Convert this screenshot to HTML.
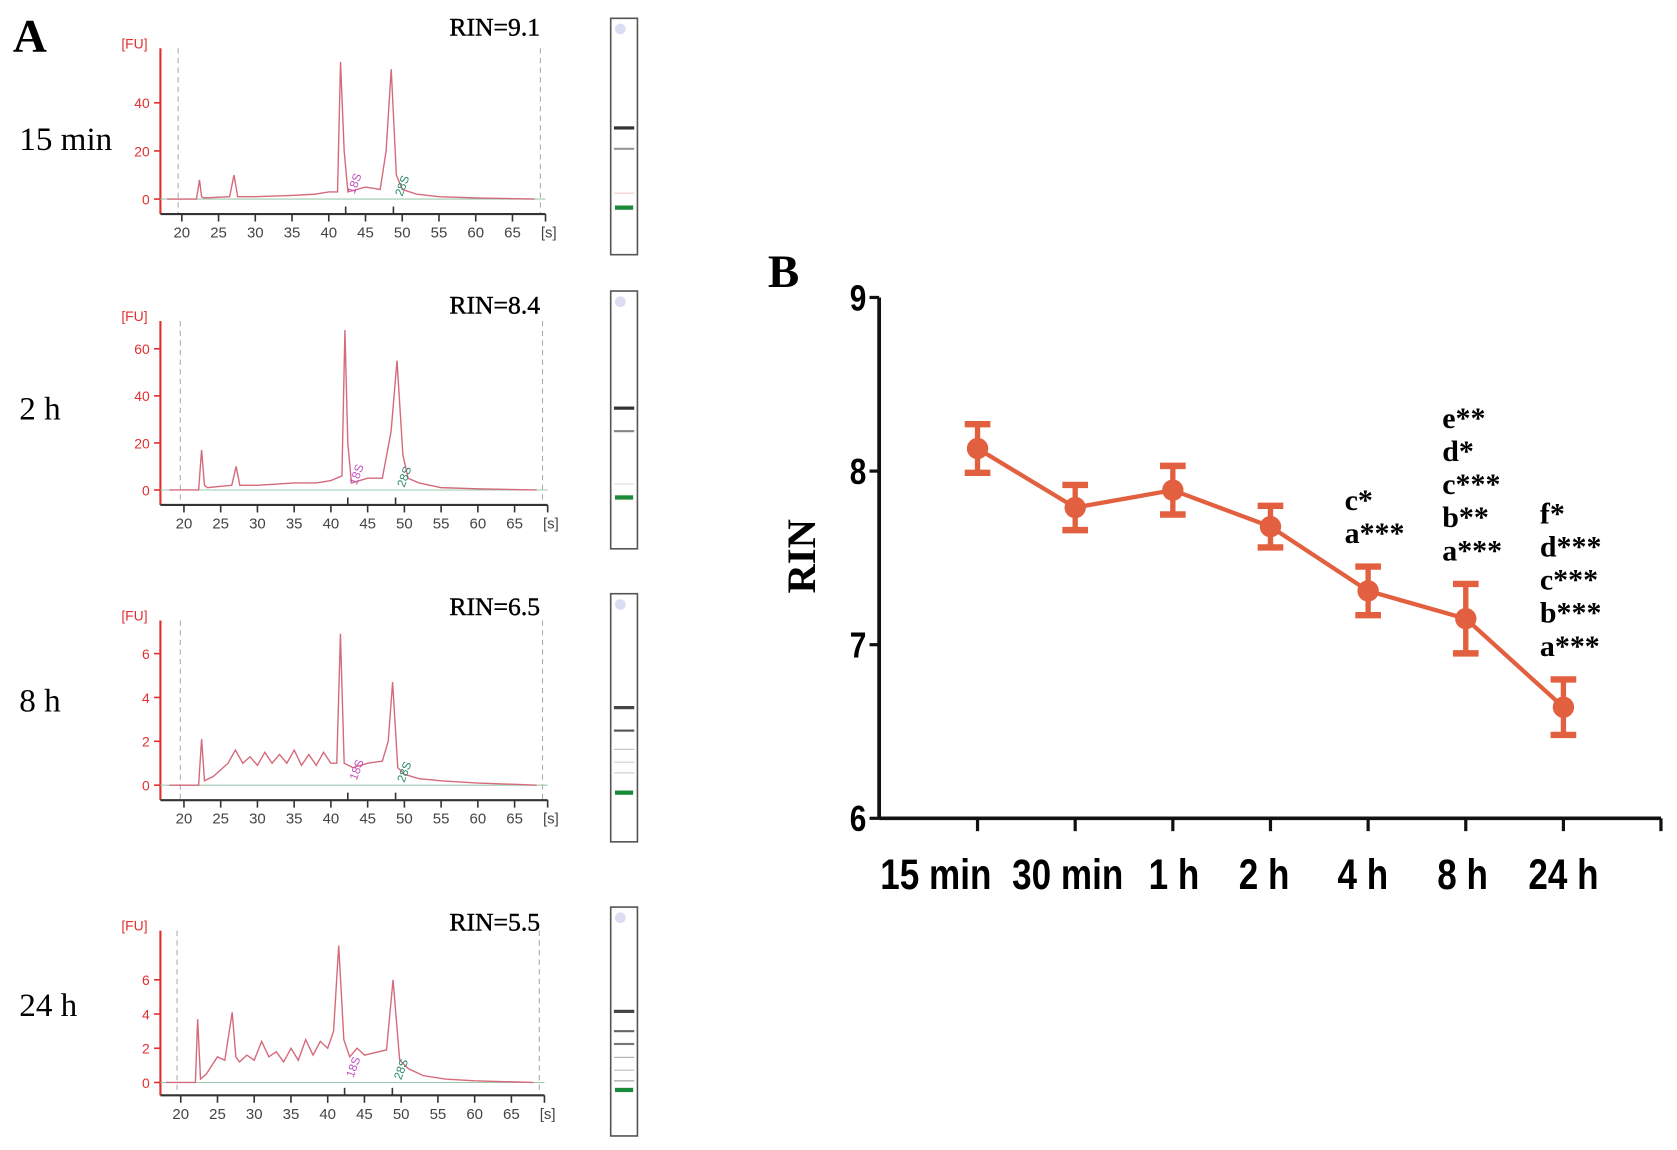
<!DOCTYPE html>
<html><head><meta charset="utf-8"><style>
html,body{margin:0;padding:0;background:#fff;}
svg{display:block;}
.ser{font-family:"Liberation Serif",serif;}
.nar{font-family:"Liberation Sans",sans-serif;}
</style></head><body>
<svg id="fig" width="1677" height="1150" viewBox="0 0 1568 1075" xmlns="http://www.w3.org/2000/svg">
<text x="12" y="48" class="ser" font-size="44" font-weight="bold">A</text>
<text x="718" y="268" class="ser" font-size="44" font-weight="bold">B</text>
<g id="panelA"></g>
<g id="panelB"></g>
</svg>
<script>
const NS="http://www.w3.org/2000/svg";
function mk(tag,attrs,parent,txt){const e=document.createElementNS(NS,tag);for(const k in attrs)e.setAttribute(k,attrs[k]);if(txt!==undefined)e.textContent=txt;parent.appendChild(e);return e;}

// ---------- Panel B data ----------
const categories=["15 min","30 min","1 h","2 h","4 h","8 h","24 h"];
const rinMeans=[8.13,7.79,7.89,7.68,7.31,7.15,6.64];
const rinErrors=[0.14,0.13,0.14,0.12,0.14,0.20,0.16];
const yTicks=[6,7,8,9];
const sigLabels=[[],[],[],[],["c*","a***"],["e**","d*","c***","b**","a***"],["f*","d***","c***","b***","a***"]];

// ---------- Panel A data ----------
const traceLabels=["15 min","2 h","8 h","24 h"];
const rinValues=["RIN=9.1","RIN=8.4","RIN=6.5","RIN=5.5"];
const fuTicks=[[0,20,40],[0,20,40,60],[0,2,4,6],[0,2,4,6]];
const secTicks=[20,25,30,35,40,45,50,55,60,65];
const traceTimes=[
 [18,22,22.4,22.7,23,26.5,27.1,27.6,30,35,38,40,41.2,41.6,42.1,42.6,45,47,47.8,48.5,49.2,50,52,55,60,68],
 [18,22,22.4,22.8,23.2,26.5,27.1,27.6,30,35,38,40,41.5,41.9,42.3,42.8,45,47,48.2,49,49.8,50.5,52,55,60,68],
 [18,22,22.4,22.8,24,26,27,28,29,30,31,32,33,34,35,36,37,38,39,40,40.8,41.3,41.8,43,45,47,47.8,48.4,49.1,50,52,55,60,68],
 [18,22,22.3,22.7,23.5,25,26,27,27.5,28,29,30,31,32,33,34,35,36,37,38,39,40,40.8,41.5,42.2,43,44,45,46,48,48.9,49.8,51,53,56,60,68]
];
const traceValues=[
 [0,0,8,1,0.5,1,10,1,1,1.5,2,3,3,57,20,3,5,4,20,54,10,4,2,1,0.5,0],
 [0,0,17,2,1,2,10,2,2,3,3,4,6,68,20,3,5,5,25,55,15,5,3,1,0.5,0],
 [0,0,2.1,0.2,0.4,1,1.6,1,1.3,0.9,1.5,1,1.4,1,1.6,0.9,1.4,0.9,1.5,1,1,6.9,1,0.8,1,1.1,2,4.7,0.8,0.5,0.3,0.2,0.1,0],
 [0,0,3.7,0.2,0.5,1.5,1.3,4.1,1.5,1.2,1.6,1.3,2.4,1.5,1.8,1.2,2,1.3,2.5,1.6,2.4,2,3,8,2.5,1.5,2,1.6,1.7,1.9,6,1.3,0.8,0.4,0.2,0.1,0]
];

// layout (not data)
const layA=[
 {zero:186,ppu:2.25,top:45,axis:200,lab:222,x20:170,ly:140,ry:33,lane:[571,17,25,221],bands:[[118,"#333",3],[138,"#999",2],[180,"#f4c6c6",1]],mark:195},
 {zero:458,ppu:2.2,top:300,axis:472,lab:494,x20:172,ly:392,ry:293,lane:[571,272,25,241],bands:[[380,"#333",3],[402,"#888",2],[452,"#ddd",1]],mark:466},
 {zero:734,ppu:20.5,top:580,axis:748,lab:770,x20:172,ly:665,ry:575,lane:[571,555,25,232],bands:[[660,"#444",3],[682,"#555",2],[700,"#bbb",1],[712,"#ccc",1],[722,"#ccc",1]],mark:742},
 {zero:1012,ppu:16,top:870,axis:1024,lab:1046,x20:169,ly:950,ry:870,lane:[571,848,25,214],bands:[[944,"#444",3],[963,"#666",2],[975,"#777",2],[988,"#aaa",1],[1000,"#bbb",1],[1010,"#999",1]],mark:1020}
];
const pA=document.getElementById('panelA');
const sx=6.87;
layA.forEach((L,i)=>{
  const g=mk('g',{},pA);
  
  
  const xs=t=>L.x20+(t-20)*sx;
  const ys=v=>L.zero-v*L.ppu;
  const tl=mk('text',{x:18,y:L.ly,'font-size':31,class:'ser'},g,traceLabels[i]);
  
  
  const rt=mk('text',{x:505,y:L.ry,'font-size':24,class:'ser','text-anchor':'end','stroke':'#000','stroke-width':0.4},g,rinValues[i]);
  
  
  mk('line',{x1:xs(19.5),x2:xs(19.5),y1:L.top,y2:L.axis,stroke:'#aaa','stroke-dasharray':'5,4'},g);
  mk('line',{x1:xs(68.8),x2:xs(68.8),y1:L.top,y2:L.axis,stroke:'#aaa','stroke-dasharray':'5,4'},g);
  mk('line',{x1:150,x2:150,y1:L.top,y2:L.axis,stroke:'#e03030','stroke-width':2},g);
  mk('text',{x:138,y:L.top,'font-size':13,fill:'#e03030','text-anchor':'end',class:'nar'},g,'[FU]');
  fuTicks[i].forEach(v=>{
    mk('line',{x1:144,x2:150,y1:ys(v),y2:ys(v),stroke:'#e03030','stroke-width':1.5},g);
    mk('text',{x:140,y:ys(v)+5,'font-size':13,fill:'#e03030','text-anchor':'end',class:'nar'},g,String(v));
  });
  mk('line',{x1:150,x2:xs(69.5),y1:L.axis,y2:L.axis,stroke:'#333','stroke-width':2},g);
  secTicks.forEach(t=>{
    mk('line',{x1:xs(t),x2:xs(t),y1:L.axis,y2:L.axis+7,stroke:'#333','stroke-width':1.5},g);
    mk('text',{x:xs(t),y:L.lab,'font-size':14,fill:'#444','text-anchor':'middle',class:'nar'},g,String(t));
  });
  mk('line',{x1:xs(69.5),x2:xs(69.5),y1:L.axis,y2:L.axis+7,stroke:'#333','stroke-width':1.5},g);
  mk('text',{x:xs(69.5)+3,y:L.lab,'font-size':14,fill:'#444','text-anchor':'middle',class:'nar'},g,'[s]');
  mk('line',{x1:150,x2:xs(69.5),y1:L.zero,y2:L.zero,stroke:'#9cc9b0','stroke-width':1},g);
  mk('line',{x1:xs(42.3),x2:xs(42.3),y1:L.axis-7,y2:L.axis,stroke:'#333','stroke-width':1.5},g);
  mk('line',{x1:xs(48.8),x2:xs(48.8),y1:L.axis-7,y2:L.axis,stroke:'#333','stroke-width':1.5},g);
  const pts=traceTimes[i].map((t,k)=>xs(t).toFixed(1)+','+ys(traceValues[i][k]).toFixed(1)).join(' ');
  const pl=mk('polyline',{points:pts,fill:'none',stroke:'#d46a7a','stroke-width':1.3},g);
  
  
  mk('text',{x:xs(43.5),y:L.zero-4,'font-size':11,fill:'#c050c0',transform:`rotate(-70 ${xs(43.5)} ${L.zero-4})`,class:'nar'},g,'18S');
  mk('text',{x:xs(50),y:L.zero-2,'font-size':11,fill:'#2a8a6a',transform:`rotate(-70 ${xs(50)} ${L.zero-2})`,class:'nar'},g,'28S');
  const [lx,ly,lw,lh]=L.lane;
  const lane=mk('rect',{x:lx,y:ly,width:lw,height:lh,fill:'#fff',stroke:'#555','stroke-width':1.5},g);
  
  
  mk('circle',{cx:lx+9,cy:ly+10,r:5,fill:'#dcdcf2'},g);
  L.bands.forEach(b=>mk('rect',{x:lx+3,y:b[0],width:lw-6,height:b[2],fill:b[1]},g));
  mk('rect',{x:lx+4,y:L.mark-3,width:lw-8,height:4,fill:'#1a8a3a'},g);
});

// ---------- Panel B ----------
const pB=document.getElementById('panelB');
const X0=822,X1=1553,Y6=765,Y9=278;
const xB=i=>914+i*91.3;
const yB=v=>Y6-(v-6)*(Y6-Y9)/3;
const labelShift=[-39,-7,1,-6,-5,-3,0];
const col='#e2603f';
mk('line',{x1:X0,x2:X0,y1:Y9,y2:Y6,stroke:'#111','stroke-width':3.5},pB);
mk('line',{x1:X0,x2:X1,y1:Y6,y2:Y6,stroke:'#111','stroke-width':3.5},pB);
yTicks.forEach(v=>{
  mk('line',{x1:X0-9,x2:X0,y1:yB(v),y2:yB(v),stroke:'#111','stroke-width':3},pB);
  const t=mk('text',{'font-size':34,'font-weight':'bold','text-anchor':'end',class:'nar',transform:`translate(${X0-12},${yB(v)+12}) scale(0.82,1)`},pB,String(v));
  
  
});
mk('line',{x1:X1,x2:X1,y1:Y6,y2:Y6+12,stroke:'#111','stroke-width':3},pB);
categories.forEach((c,i)=>{
  mk('line',{x1:xB(i),x2:xB(i),y1:Y6,y2:Y6+12,stroke:'#111','stroke-width':3},pB);
  const t=mk('text',{'font-size':40,'font-weight':'bold','text-anchor':'middle',class:'nar',transform:`translate(${xB(i)+labelShift[i]},831) scale(0.82,1)`},pB,c);
  
  
});
const yt=mk('text',{x:762,y:520,'font-size':38,'font-weight':'bold','text-anchor':'middle',class:'ser',transform:'rotate(-90 762 520)'},pB,'RIN');


const line=mk('polyline',{points:rinMeans.map((v,i)=>xB(i)+','+yB(v)).join(' '),fill:'none',stroke:col,'stroke-width':4},pB);


rinMeans.forEach((v,i)=>{
  const x=xB(i),lo=yB(v-rinErrors[i]),hi=yB(v+rinErrors[i]);
  const eb=mk('g',{},pB);
  
  
  mk('line',{x1:x,x2:x,y1:hi,y2:lo,stroke:col,'stroke-width':5},eb);
  mk('line',{x1:x-12,x2:x+12,y1:hi,y2:hi,stroke:col,'stroke-width':6},eb);
  mk('line',{x1:x-12,x2:x+12,y1:lo,y2:lo,stroke:col,'stroke-width':6},eb);
  const pt=mk('circle',{cx:x,cy:yB(v),r:10,fill:col},pB);
  
  
  const labs=sigLabels[i];
  labs.forEach((s,k)=>{
    const yy=yB(v+rinErrors[i])-22-(labs.length-1-k)*31;
    const t=mk('text',{x:x-22,y:yy,'font-size':28,'font-weight':'bold',class:'ser'},pB,s);
    
    
  });
});
</script>
</body></html>
